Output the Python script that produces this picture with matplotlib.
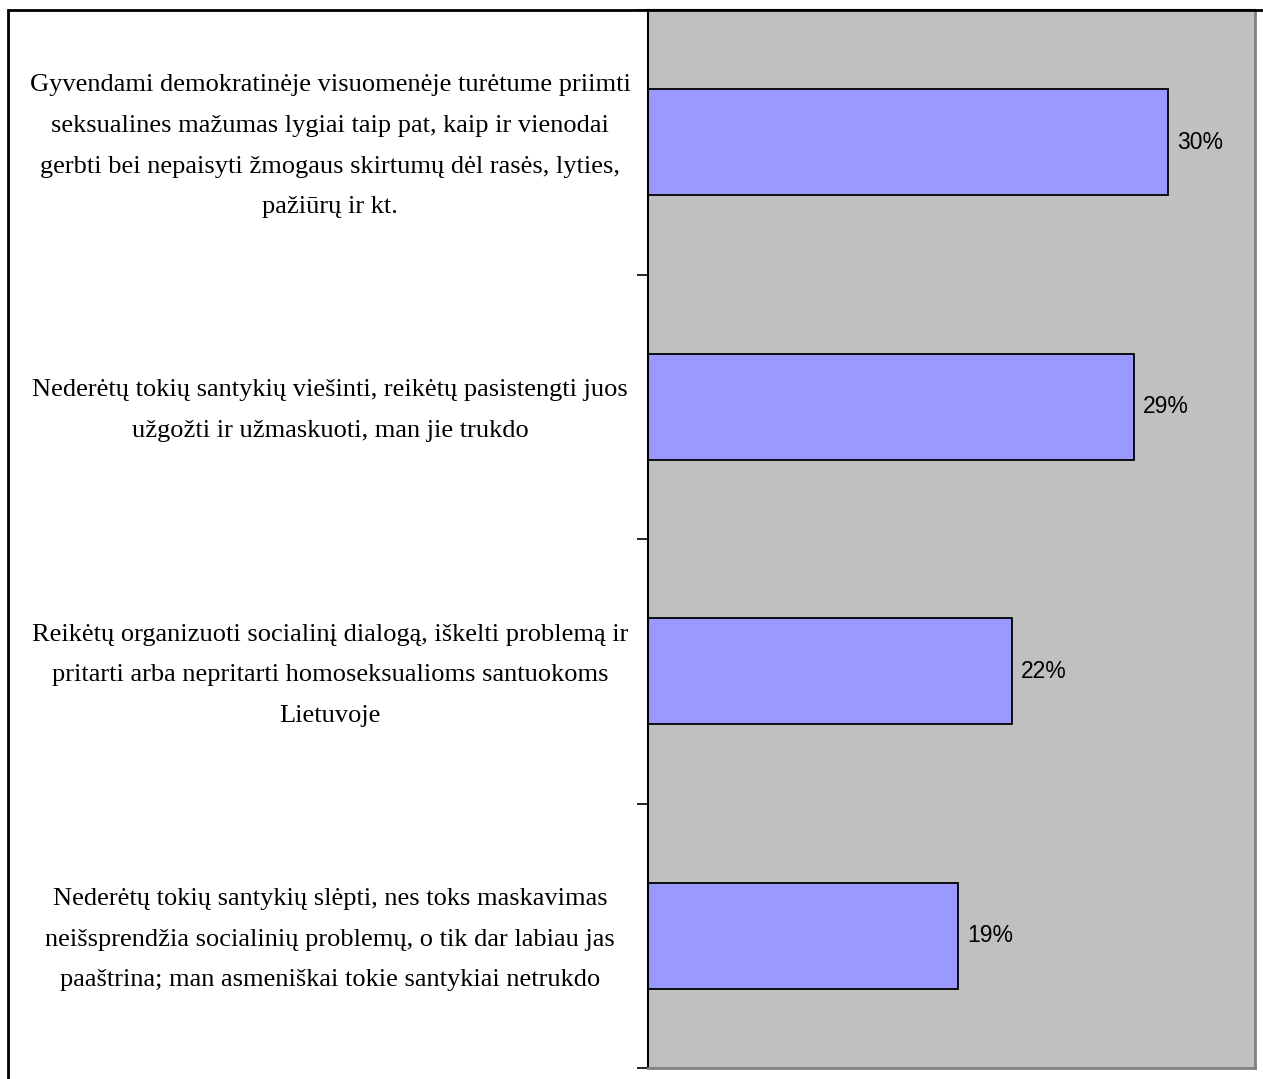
import matplotlib
matplotlib.use("Agg")
import matplotlib.pyplot as plt
from matplotlib.patches import Rectangle
from matplotlib.transforms import blended_transform_factory

# категории сверху вниз
categories = [
    "Gyvendami demokratinėje visuomenėje turėtume priimti\n"
    "seksualines mažumas lygiai taip pat, kaip ir vienodai\n"
    "gerbti bei nepaisyti žmogaus skirtumų dėl rasės, lyties,\n"
    "pažiūrų ir kt.",
    "Nederėtų tokių santykių viešinti, reikėtų pasistengti juos\n"
    "užgožti ir užmaskuoti, man jie trukdo",
    "Reikėtų organizuoti socialinį dialogą, iškelti problemą ir\n"
    "pritarti arba nepritarti homoseksualioms santuokoms\n"
    "Lietuvoje",
    "Nederėtų tokių santykių slėpti, nes toks maskavimas\n"
    "neišsprendžia socialinių problemų, o tik dar labiau jas\n"
    "paaštrina; man asmeniškai tokie santykiai netrukdo",
]
values = [0.300, 0.280, 0.210, 0.179]
value_labels = ["30%", "29%", "22%", "19%"]

W, H = 1263, 1079
fig = plt.figure(figsize=(W / 100, H / 100), dpi=100)
fig.patch.set_facecolor("white")

ax = fig.add_axes([648 / W, 1 - 1068 / H, (1255 - 648) / W, (1068 - 10) / H])
ax.set_facecolor("#C0C0C0")

pos = list(range(len(categories)))
ax.barh(pos, values, height=0.4, color="#9999FF", edgecolor="black", linewidth=1.3)
ax.set_xlim(0, 0.35)
ax.set_ylim(len(categories) - 0.5, -0.5)

# подписи значений справа от столбцов
for y, v, lab in zip(pos, values, value_labels):
    ax.annotate(lab, xy=(v, y), xytext=(6.5, 0), textcoords="offset points",
                ha="left", va="center", fontsize=16.5, family="Liberation Sans")

# подписи категорий по центру левой области
tr = blended_transform_factory(fig.transFigure, ax.transData)
for y, txt in zip(pos, categories):
    ax.text(330 / W, y + 0.015, txt, transform=tr, ha="center", va="center",
            multialignment="center", fontsize=19, family="Liberation Serif",
            linespacing=2.1, clip_on=False)

ax.set_xticks([])
ax.set_yticks([])
ax.set_yticks([p - 0.5 for p in pos] + [len(pos) - 0.5], minor=True)
ax.tick_params(axis="y", which="minor", length=8, width=1.2, color="black", direction="out")

ax.spines["left"].set_color("black")
ax.spines["left"].set_linewidth(1.5)
ax.spines["top"].set_color("black")
ax.spines["top"].set_linewidth(1.5)
for s in ("right", "bottom"):
    ax.spines[s].set_color("#808080")
    ax.spines[s].set_linewidth(2.0)

# внешняя рамка (уходит за край картинки)
fig.patches.append(Rectangle((8 / W, -0.05), 1.2, 1 - 10 / H + 0.05,
                             transform=fig.transFigure, fill=False,
                             edgecolor="black", linewidth=2.0, zorder=0))

fig.savefig("out.png", dpi=100)
